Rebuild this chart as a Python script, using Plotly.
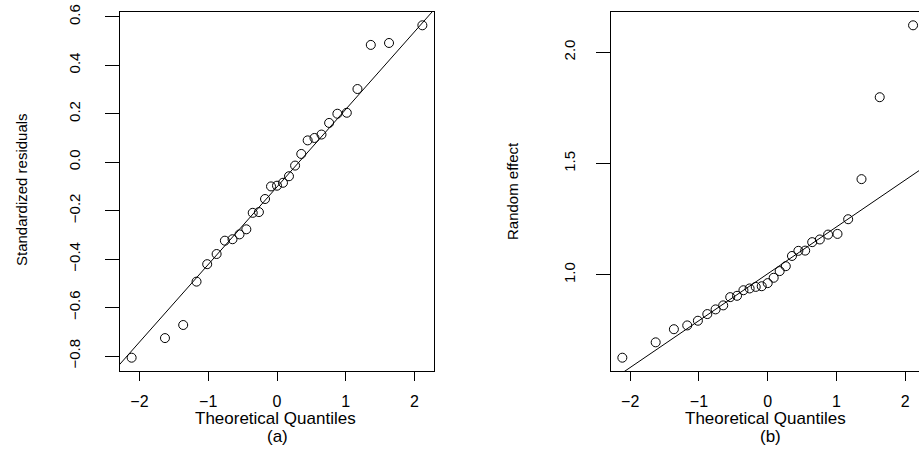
import numpy as np
import plotly.graph_objects as go

# Theoretical normal quantiles (n = 29), as read from the x positions
theo_q = [-2.114, -1.629, -1.364, -1.170, -1.015, -0.878, -0.758, -0.647, -0.545,
          -0.446, -0.353, -0.263, -0.174, -0.087, 0.000, 0.087, 0.174, 0.263,
          0.353, 0.446, 0.545, 0.647, 0.758, 0.878, 1.015, 1.170, 1.364, 1.629, 2.114]

# (a) Standardized residuals (sorted)
resid = [-0.807, -0.726, -0.672, -0.493, -0.421, -0.379, -0.324, -0.318, -0.298,
         -0.277, -0.209, -0.206, -0.152, -0.100, -0.097, -0.085, -0.058, -0.014,
         0.034, 0.090, 0.100, 0.114, 0.162, 0.200, 0.204, 0.302, 0.484, 0.492, 0.565]

# (b) Random effect (sorted)
reff = [0.628, 0.697, 0.756, 0.773, 0.794, 0.824, 0.845, 0.863, 0.900, 0.906,
        0.931, 0.939, 0.946, 0.949, 0.963, 0.987, 1.017, 1.039, 1.085, 1.108,
        1.109, 1.147, 1.159, 1.181, 1.184, 1.250, 1.430, 1.798, 2.121]

x_ticks = [-2, -1, 0, 1, 2]
x_tick_text = ["\u22122", "\u22121", "0", "1", "2"]
y1_ticks = [-0.8, -0.6, -0.4, -0.2, 0.0, 0.2, 0.4, 0.6]
y1_tick_text = ["\u22120.8", "\u22120.6", "\u22120.4", "\u22120.2", "0.0", "0.2", "0.4", "0.6"]
y2_ticks = [1.0, 1.5, 2.0]
y2_tick_text = ["1.0", "1.5", "2.0"]

x_title = "Theoretical Quantiles"
y1_title = "Standardized residuals"
y2_title = "Random effect"
sub_a = "(a)"
sub_b = "(b)"

W, H = 919, 449
L, R, T, B = 120, 0, 12, 78
pw = W - L - R
panel_px = 314.0
x2_start_px = 610.7


def r_range(v):
    lo, hi = float(np.min(v)), float(np.max(v))
    d = (hi - lo) * 0.04
    return lo - d, hi + d


def qq_line(q, v):
    q1, q3 = np.percentile(v, [25, 75])
    z1, z3 = -0.6744898, 0.6744898
    slope = (q3 - q1) / (z3 - z1)
    inter = q1 - slope * z1
    return slope, inter


xr = r_range(theo_q)
y1r = r_range(resid)
y2r = r_range(reff)
# right panel is cut at the page edge
x2_end = xr[0] + (xr[1] - xr[0]) * ((W - x2_start_px) / panel_px)

fig = go.Figure()
marker = dict(symbol="circle-open", size=9, color="black", line=dict(width=1, color="black"))

fig.add_trace(go.Scatter(x=theo_q, y=resid, mode="markers", marker=marker,
                         xaxis="x", yaxis="y", showlegend=False, cliponaxis=False))
s1, i1 = qq_line(theo_q, resid)
fig.add_trace(go.Scatter(x=[xr[0] - 1, xr[1] + 1], y=[i1 + s1 * (xr[0] - 1), i1 + s1 * (xr[1] + 1)],
                         mode="lines", line=dict(color="black", width=1),
                         xaxis="x", yaxis="y", showlegend=False))

fig.add_trace(go.Scatter(x=theo_q, y=reff, mode="markers", marker=marker,
                         xaxis="x2", yaxis="y2", showlegend=False, cliponaxis=False))
s2, i2 = qq_line(theo_q, reff)
fig.add_trace(go.Scatter(x=[xr[0] - 1, xr[1] + 1], y=[i2 + s2 * (xr[0] - 1), i2 + s2 * (xr[1] + 1)],
                         mode="lines", line=dict(color="black", width=1),
                         xaxis="x2", yaxis="y2", showlegend=False))

tickfont = dict(family="Liberation Sans, Arial, sans-serif", size=16, color="black")
yfont = dict(family="Liberation Sans, Arial, sans-serif", size=15, color="black")

xax = dict(range=list(xr), tickvals=x_ticks, ticktext=x_tick_text, ticks="outside",
           ticklen=9, tickwidth=1, tickcolor="black", showline=True, linecolor="black",
           linewidth=1, showgrid=False, zeroline=False, tickfont=tickfont,
           ticklabelstandoff=7)
d1 = panel_px / pw
d2s = (x2_start_px - L) / pw

fig.update_layout(
    width=W, height=H, margin=dict(l=L, r=R, t=T, b=B),
    paper_bgcolor="white", plot_bgcolor="white",
    xaxis=dict(xax, domain=[0, d1], anchor="y", mirror=True),
    xaxis2=dict(xax, domain=[d2s, 1.0], anchor="y2", range=[xr[0], x2_end], mirror=True),
    yaxis=dict(range=list(y1r), tickvals=y1_ticks, ticktext=y1_tick_text, ticks="outside",
               ticklen=14, tickwidth=1, tickcolor="black", showline=True, linecolor="black",
               linewidth=1, mirror=True, showgrid=False, zeroline=False, tickangle=-90,
               tickfont=yfont, domain=[0, 1], anchor="x", ticklabelstandoff=19),
    yaxis2=dict(range=list(y2r), tickvals=y2_ticks, ticktext=y2_tick_text, ticks="outside",
                ticklen=14, tickwidth=1, tickcolor="black", showline=True, linecolor="black",
                linewidth=1, mirror=False, showgrid=False, zeroline=False, tickangle=-90,
                tickfont=yfont, domain=[0, 1], anchor="x2", ticklabelstandoff=15),
)

ph = H - T - B
def py(px_y):
    return (H - B - px_y) / ph

def pxx(px_x):
    return (px_x - L) / pw

titlefont = dict(family="Liberation Sans, Arial, sans-serif", size=17, color="black")
ann = [
    dict(text=x_title, xref="x", yref="paper", x=0, y=py(418), xshift=-2, font=titlefont),
    dict(text=sub_a, xref="x", yref="paper", x=0, y=py(437), font=titlefont),
    dict(text=x_title, xref="x2", yref="paper", x=0, y=py(418), xshift=-2, font=titlefont),
    dict(text=sub_b, xref="x2", yref="paper", x=0, y=py(437), xshift=3, font=titlefont),
    dict(text=y1_title, xref="paper", yref="paper", x=pxx(22), y=py(190), textangle=-90, font=yfont),
    dict(text=y2_title, xref="paper", yref="paper", x=pxx(512), y=py(191), textangle=-90, font=yfont),
]
for a in ann:
    a.update(showarrow=False, xanchor="center", yanchor="middle")
fig.update_layout(annotations=ann)

fig.write_html("out.html")
